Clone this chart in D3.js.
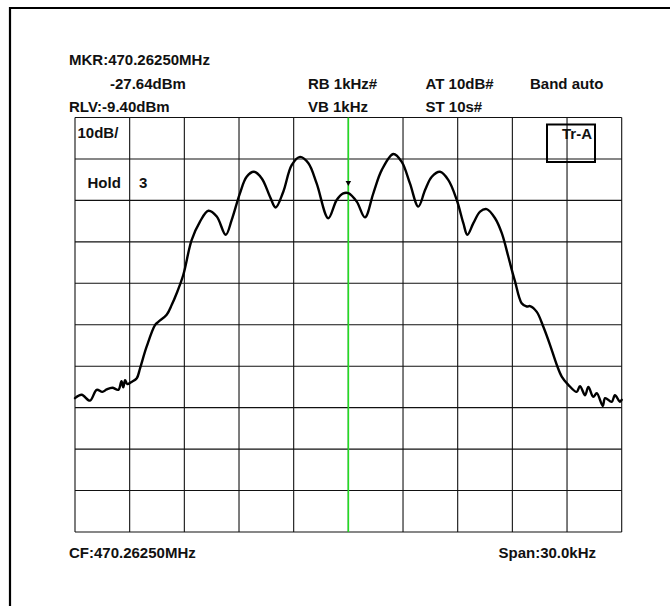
<!DOCTYPE html>
<html>
<head>
<meta charset="utf-8">
<script src="https://cdn.jsdelivr.net/npm/d3@7"></script>
<style>
  html, body { margin: 0; padding: 0; background: #fff; }
  svg { display: block; }
  text { font-family: "Liberation Sans", Arial, sans-serif; font-weight: bold; font-size: 15px; fill: #111; }
</style>
</head>
<body>
<svg id="chart" width="670" height="606"></svg>
<script>
// ---- data (frequency offset from CF in kHz, level in dBm) ----
const freqOffsetKHz = [-15.0,-14.63,-14.18,-13.81,-13.5,-13.26,-12.95,-12.62,-12.45,-12.35,-12.25,-12.13,-11.9,-11.61,-11.43,-11.07,-10.61,-10.43,-9.97,-9.69,-9.42,-9.06,-8.60,-8.14,-7.68,-7.22,-6.73,-6.40,-5.95,-5.58,-5.18,-4.75,-4.30,-3.99,-3.57,-3.11,-2.65,-2.20,-1.74,-1.10,-0.64,-0.28,0.0,0.46,0.91,1.37,1.83,2.47,2.93,3.38,3.84,4.21,4.58,5.03,5.49,5.95,6.31,6.53,6.86,7.23,7.59,8.05,8.42,8.78,9.02,9.15,9.51,9.79,9.97,10.34,10.70,11.07,11.44,11.71,12.07,12.53,12.71,12.99,13.17,13.44,13.63,13.96,14.09,14.45,14.63,14.91,15.0];
const levelDBm = [-77.1,-76.3,-77.7,-75.1,-75.6,-75.0,-74.6,-75.1,-73.0,-74.5,-72.8,-73.7,-73.2,-72.3,-69.9,-64.7,-59.5,-58.7,-57.0,-54.6,-51.8,-47.4,-39.0,-34.5,-31.9,-33.3,-37.7,-34.1,-27.7,-23.7,-22.5,-24.1,-28.5,-31.1,-27.3,-20.9,-18.9,-20.4,-25.3,-33.7,-29.3,-27.7,-27.64,-29.7,-33.5,-27.7,-22.1,-18.2,-20.1,-25.3,-30.9,-26.9,-23.7,-22.5,-24.5,-29.3,-34.9,-37.7,-34.9,-32.1,-31.5,-33.7,-37.3,-43.0,-47.0,-49.0,-54.2,-55.0,-54.9,-56.3,-59.9,-64.3,-69.1,-71.9,-73.9,-75.6,-74.2,-76.4,-74.4,-76.8,-75.9,-79.0,-77.1,-78.0,-76.4,-78.0,-77.5];

const xGridKHz = [-15,-12,-9,-6,-3,0,3,6,9,12,15];
const yGridDBm = [-9.4,-19.4,-29.4,-39.4,-49.4,-59.4,-69.4,-79.4,-89.4,-99.4,-109.4];
const markerKHz = 0;
const markerDBm = -27.64;

const headerLabels = [
  {t:"MKR:470.26250MHz", x:69, y:65},
  {t:"-27.64dBm", x:110, y:88.5},
  {t:"RB 1kHz#", x:308, y:88.5},
  {t:"AT 10dB#", x:425.5, y:88.5},
  {t:"Band auto", x:530, y:88.5},
  {t:"RLV:-9.40dBm", x:69, y:112.3},
  {t:"VB 1kHz", x:308, y:112.3},
  {t:"ST 10s#", x:425.5, y:112.3},
  {t:"10dB/", x:77.5, y:138.3},
  {t:"Hold", x:87.5, y:188.3},
  {t:"3", x:139, y:188.3},
  {t:"Tr-A", x:562, y:139},
  {t:"CF:470.26250MHz", x:69, y:557.7},
  {t:"Span:30.0kHz", x:498.5, y:557.7}
];

// ---- drawing ----
const svg = d3.select("#chart");
const x = d3.scaleLinear().domain([-15, 15]).range([75, 621.7]);
const y = d3.scaleLinear().domain([-9.4, -109.4]).range([117.5, 532]);

// outer frame (extends beyond right/bottom)
svg.append("path")
  .attr("d", "M10,700 L10,8 L700,8")
  .attr("fill", "none").attr("stroke", "#000").attr("stroke-width", 2.2);

// grid
const g = svg.append("g");
g.selectAll("line.v").data(xGridKHz).join("line")
  .attr("x1", d => x(d)).attr("x2", d => x(d))
  .attr("y1", y.range()[0]).attr("y2", y.range()[1])
  .attr("stroke", "#111").attr("stroke-width", 1.1);
g.selectAll("line.h").data(yGridDBm).join("line")
  .attr("y1", d => y(d)).attr("y2", d => y(d))
  .attr("x1", x.range()[0]).attr("x2", x.range()[1])
  .attr("stroke", "#111").attr("stroke-width", 1.1);

// Tr-A box
svg.append("rect").attr("x", 547).attr("y", 124.5).attr("width", 48).attr("height", 37.5)
  .attr("fill", "none").attr("stroke", "#000").attr("stroke-width", 2);

// marker line
svg.append("line")
  .attr("x1", x(markerKHz)).attr("x2", x(markerKHz))
  .attr("y1", y.range()[0]).attr("y2", y.range()[1])
  .attr("stroke", "#22dd22").attr("stroke-width", 1.6);

// trace
const pts = freqOffsetKHz.map((f, i) => [f, levelDBm[i]]);
const line = d3.line().x(d => x(d[0])).y(d => y(d[1])).curve(d3.curveCatmullRom.alpha(0.5));
svg.append("path").datum(pts).attr("d", line)
  .attr("fill", "none").attr("stroke", "#000").attr("stroke-width", 2.4)
  .attr("stroke-linejoin", "round").attr("stroke-linecap", "round");

// marker symbol
svg.append("path")
  .attr("transform", `translate(${x(markerKHz)},${y(markerDBm) - 7})`)
  .attr("d", "M-2.8,-5 L2.8,-5 L0,0 Z")
  .attr("fill", "#000");

// labels
svg.selectAll("text.lbl").data(headerLabels).join("text")
  .attr("class", "lbl").attr("x", d => d.x).attr("y", d => d.y).text(d => d.t);
</script>
</body>
</html>
